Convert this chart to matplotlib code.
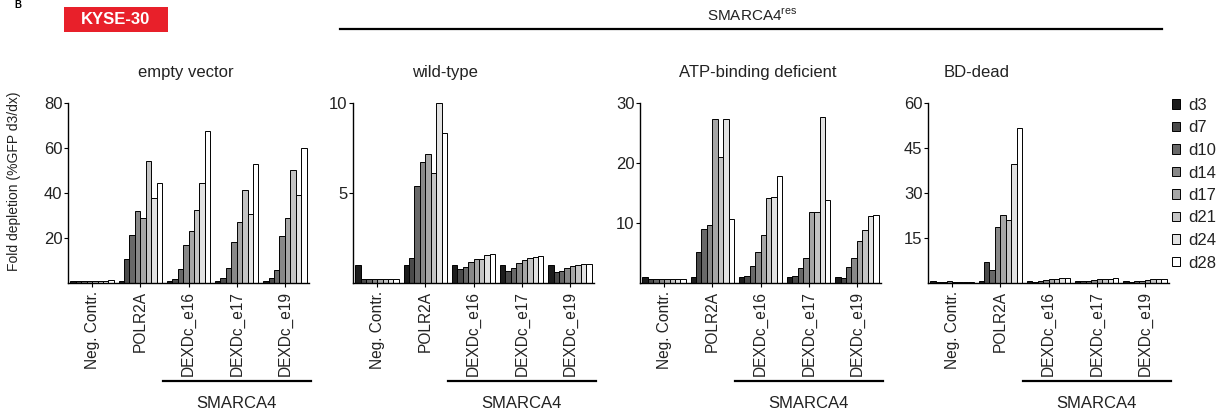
import numpy as np
import matplotlib
matplotlib.use('Agg')
import matplotlib.pyplot as plt
from matplotlib.patches import Rectangle

plt.rcParams['font.family'] = ['Liberation Sans', 'DejaVu Sans']
plt.rcParams['mathtext.fontset'] = 'custom'
plt.rcParams['mathtext.rm'] = 'Liberation Sans'

# data
days = ['d3', 'd7', 'd10', 'd14', 'd17', 'd21', 'd24', 'd28']
guides = ['Neg. Contr.', 'POLR2A', 'DEXDc_e16', 'DEXDc_e17', 'DEXDc_e19']
panel_titles = ['empty vector', 'wild-type', 'ATP-binding deficient', 'BD-dead']

empty_vector = [
    [0.9, 0.9, 0.9, 0.9, 0.9, 0.9, 0.9, 1.5],
    [0.9, 10.6, 21.3, 32.0, 28.9, 54.4, 37.7, 44.6],
    [0.9, 2.0, 6.1, 16.7, 23.2, 32.5, 44.4, 67.5],
    [0.9, 2.4, 6.6, 18.2, 27.0, 41.4, 30.6, 52.7],
    [0.9, 2.3, 6.0, 20.9, 29.0, 50.4, 39.2, 59.9],
]
wild_type = [
    [1.0, 0.2, 0.25, 0.25, 0.25, 0.25, 0.25, 0.25],
    [1.0, 1.37, 5.39, 6.71, 7.16, 6.13, 10.0, 8.35],
    [1.0, 0.77, 0.89, 1.15, 1.32, 1.36, 1.56, 1.62],
    [1.0, 0.68, 0.83, 1.11, 1.26, 1.41, 1.47, 1.49],
    [1.0, 0.62, 0.68, 0.81, 0.92, 0.98, 1.04, 1.04],
]
atp_deficient = [
    [1.0, 0.6, 0.6, 0.6, 0.6, 0.6, 0.6, 0.6],
    [1.0, 5.1, 9.0, 9.6, 27.3, 21.0, 27.3, 10.7],
    [1.0, 1.1, 2.8, 5.1, 8.0, 14.2, 14.3, 17.9],
    [1.0, 1.1, 2.5, 4.2, 11.8, 11.8, 27.6, 13.9],
    [1.0, 0.9, 2.6, 4.1, 7.0, 8.9, 11.1, 11.4],
]
bd_dead = [
    [0.8, 0.5, 0.5, 0.6, 0.5, 0.45, 0.45, 0.45],
    [0.8, 6.9, 4.5, 18.7, 22.8, 20.9, 39.6, 51.8],
    [0.8, 0.5, 0.6, 1.1, 1.2, 1.4, 1.7, 1.7],
    [0.8, 0.55, 0.6, 0.9, 1.2, 1.4, 1.5, 1.7],
    [0.8, 0.5, 0.55, 0.8, 1.0, 1.2, 1.4, 1.4],
]
panel_data = [empty_vector, wild_type, atp_deficient, bd_dead]
ylims = [80, 10, 30, 60]
yticks = [[20, 40, 60, 80], [5, 10], [10, 20, 30], [15, 30, 45, 60]]

day_colors = ['#1c1c1c', '#4a4a4a', '#686868', '#888888',
              '#a6a6a6', '#c4c4c4', '#e2e2e2', '#ffffff']
txt = '#222222'

W, H = 1228, 417
fig = plt.figure(figsize=(W / 100, H / 100), dpi=100)

lefts = [68, 353, 640, 928]
title_x = [0.49, 0.38, 0.49, 0.20]
ax_w, ax_b, ax_h = 241, 134, 180

x = np.arange(len(guides))
group_w = 0.9
bw = group_w / len(days)

for p in range(4):
    ax = fig.add_axes([lefts[p] / W, ax_b / H, ax_w / W, ax_h / H])
    vals = np.array(panel_data[p])
    for j in range(len(days)):
        ax.bar(x - group_w / 2 + bw * (j + 0.5), vals[:, j], width=bw,
               color=day_colors[j], edgecolor='black', linewidth=0.7)
    ax.set_xlim(-0.5, len(guides) - 0.5)
    ax.set_ylim(0, ylims[p])
    ax.set_yticks(yticks[p])
    ax.set_xticks(x)
    ax.set_xticklabels(guides, rotation=90, fontsize=11.2, color=txt)
    ax.tick_params(axis='y', labelsize=12, labelcolor=txt, length=3, width=0.8, pad=1)
    ax.tick_params(axis='x', length=3, width=0.8, pad=3)
    for s in ['top', 'right']:
        ax.spines[s].set_visible(False)
    for s in ['left', 'bottom']:
        ax.spines[s].set_linewidth(1.0)
    ax.text(title_x[p], 1.145, panel_titles[p], transform=ax.transAxes,
            ha='center', va='baseline', fontsize=12, color=txt)
    # SMARCA4 bracket under the three DEXDc guides
    ax.plot([0.394, 1.01], [-0.544, -0.544], transform=ax.transAxes,
            color='black', linewidth=1.6, clip_on=False)
    ax.text(0.70, -0.672, 'SMARCA4', transform=ax.transAxes, ha='center',
            va='center', fontsize=12, color=txt)

fig.text(0.011, 0.565, 'Fold depletion (%GFP d3/dx)', rotation=90,
         ha='center', va='center', fontsize=10, color=txt)

# legend
handles = [Rectangle((0, 0), 1, 1, facecolor=c, edgecolor='black', linewidth=0.7)
           for c in day_colors]
fig.legend(handles, days, loc='upper left', bbox_to_anchor=(1172 / W, 1 - 98 / H),
           frameon=False, fontsize=12, handlelength=0.5, handleheight=0.5,
           handletextpad=0.45, labelspacing=0.45, borderaxespad=0, borderpad=0,
           labelcolor=txt)

# header
fig.add_artist(Rectangle((64 / W, 1 - 32 / H), 104 / W, 25 / H,
                         transform=fig.transFigure, facecolor='#e8202a',
                         edgecolor='none'))
fig.text(116 / W, 1 - 19.5 / H, 'KYSE-30', ha='center', va='center', fontsize=12,
         fontweight='bold', color='white')
fig.text(14 / W, 1.0, 'B', ha='left', va='top', fontsize=7,
         fontweight='bold', color='black')
fig.text(752 / W, 1 - 16 / H, r'SMARCA4$^{\mathrm{res}}$', ha='center', va='center',
         fontsize=11, color=txt)
fig.add_artist(plt.Line2D([340 / W, 1162 / W], [1 - 29 / H, 1 - 29 / H],
                          color='black', linewidth=1.6))

fig.savefig('out.png', dpi=100)
